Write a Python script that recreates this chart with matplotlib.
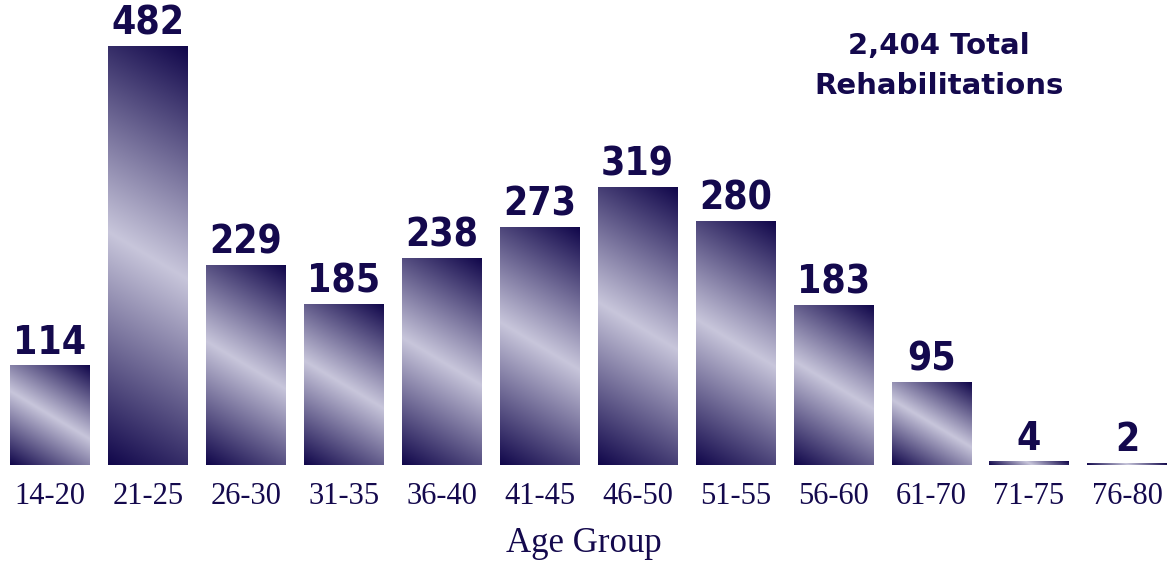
import numpy as np
import matplotlib
matplotlib.use("Agg")
import matplotlib.pyplot as plt
from matplotlib.colors import LinearSegmentedColormap

categories = ["14-20", "21-25", "26-30", "31-35", "36-40", "41-45",
              "46-50", "51-55", "56-60", "61-70", "71-75", "76-80"]
values = [114, 482, 229, 185, 238, 273, 319, 280, 183, 95, 4, 2]
total_label = "2,404 Total\nRehabilitations"
xlabel = "Age Group"

DARK = "#11074b"
LIGHT = "#c8c6db"
TEXT = "#14094d"
cmap = LinearSegmentedColormap.from_list("g", [DARK, LIGHT, DARK])

W, H, DPI = 1167, 563, 100
fig = plt.figure(figsize=(W / DPI, H / DPI), dpi=DPI)
ax = fig.add_axes([0, 0.174, 1, 0.826])
xlo, xhi = -0.511, 11.409
ylo, yhi = 0, 535
ax.set_xlim(xlo, xhi)
ax.set_ylim(ylo, yhi)

bw = 0.81
ppx = W / (xhi - xlo)           # pixels per x unit
ppy = H * 0.826 / (yhi - ylo)   # pixels per y unit
slope = 0.6                      # isoline slope in pixel space
d = np.array([slope, 1.0]); d /= np.hypot(*d)

x = np.arange(len(categories))
for xi, v in zip(x, values):
    wpx = bw * ppx
    hpx = max(v * ppy, 1.0)
    nx, ny = int(round(wpx)) * 2, max(int(round(hpx)) * 2, 2)
    px = np.linspace(0, wpx, nx)
    py = np.linspace(0, hpx, ny)
    PX, PY = np.meshgrid(px, py)
    proj = PX * d[0] + PY * d[1]
    t = (proj - proj.min()) / (proj.max() - proj.min() + 1e-9)
    ax.imshow(t, extent=[xi - bw / 2, xi + bw / 2, 0, v], origin="lower",
              cmap=cmap, vmin=0, vmax=1, aspect="auto",
              interpolation="bilinear", zorder=2)
    ax.text(xi, v + 12 / ppy, f"{v}", ha="center", va="baseline",
            fontsize=28, fontweight="bold", color=TEXT,
            family="DejaVu Sans", fontstretch="condensed")

ax.set_xlim(xlo, xhi)
ax.set_ylim(ylo, yhi)
ax.set_xticks(x)
ax.set_xticklabels(categories, fontsize=22, color=TEXT, family="Liberation Serif")
ax.tick_params(axis="x", length=0, pad=12)
ax.set_yticks([])
for s in ax.spines.values():
    s.set_visible(False)
ax.set_xlabel(xlabel, fontsize=25, color=TEXT, family="Liberation Serif", labelpad=12)

fig.text(939 / W, 1 - 66 / H, total_label, ha="center", va="center",
         fontsize=21, fontweight="bold", color=TEXT, family="DejaVu Sans",
         linespacing=1.55)

fig.savefig("out.png", dpi=DPI)
